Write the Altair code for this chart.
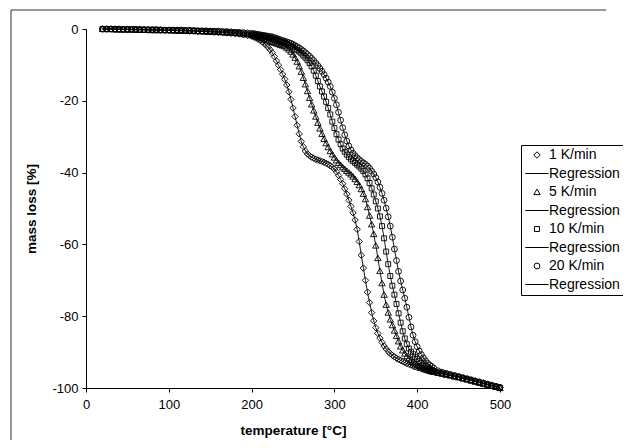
import altair as alt
import pandas as pd

# temperature grid [°C]
temps_low = [20, 25, 30, 35, 40, 45, 50, 55, 60, 65, 70, 75, 80, 85, 90, 95, 100, 105, 110, 115,
             120, 125, 130, 135, 140, 145, 150, 155, 160, 165, 170, 175, 180, 185, 190, 195, 200]
temps_mid = [202.5, 205, 207.5, 210, 212.5, 215, 217.5, 220, 222.5, 225,
             227.5, 230, 232.5, 235, 237.5, 240, 242.5, 245, 247.5, 250,
             252.5, 255, 257.5, 260, 262.5, 265, 267.5, 270, 272.5, 275,
             277.5, 280, 282.5, 285, 287.5, 290, 292.5, 295, 297.5, 300,
             302.5, 305, 307.5, 310, 312.5, 315, 317.5, 320, 322.5, 325,
             327.5, 330, 332.5, 335, 337.5, 340, 342.5, 345, 347.5, 350,
             352.5, 355, 357.5, 360, 362.5, 365, 367.5, 370, 372.5, 375,
             377.5, 380, 382.5, 385, 387.5, 390, 392.5, 395, 397.5, 400,
             402.5, 405, 407.5, 410, 412.5, 415, 417.5, 420]
temps_tail = [425, 430, 435, 440, 445, 450, 455, 460, 465, 470, 475, 480, 485, 490, 495, 500]

# mass loss [%], 1 K/min
m1_low = [0, 0, 0, -0.1, -0.1, -0.1, -0.1, -0.2, -0.2, -0.2,
          -0.2, -0.3, -0.3, -0.3, -0.3, -0.4, -0.4, -0.4, -0.5, -0.5,
          -0.5, -0.6, -0.6, -0.7, -0.7, -0.8, -0.8, -0.9, -1.0, -1.0,
          -1.1, -1.2, -1.3, -1.4, -1.6, -1.8, -2.0]
m1_mid = [-2.2, -2.5, -2.8, -3.1, -3.5, -4.0, -4.5, -5.1, -5.8, -6.6,
          -7.7, -8.9, -10.1, -11.3, -12.6, -14.0, -15.6, -17.5, -19.6, -22.0,
          -24.4, -26.8, -29.2, -31.3, -32.8, -34.0, -34.8, -35.3, -35.7, -36.0,
          -36.3, -36.5, -36.7, -36.9, -37.1, -37.4, -37.7, -38.1, -38.5, -39.0,
          -39.8, -40.8, -41.9, -43.1, -44.5, -46.0, -47.7, -49.4, -51.2, -53.2,
          -55.8, -59.2, -63.0, -66.6, -70.0, -73.3, -76.2, -79.0, -81.3, -83.2,
          -84.8, -86.1, -87.3, -88.3, -89.1, -89.8, -90.4, -90.9, -91.3, -91.7,
          -92.0, -92.3, -92.6, -92.9, -93.2, -93.4, -93.6, -93.9, -94.1, -94.3,
          -94.4, -94.6, -94.7, -94.9, -95.0, -95.1, -95.3, -95.4]
m1_tail = [-95.6, -95.9, -96.1, -96.4, -96.6, -96.9, -97.2, -97.5, -97.8, -98.1,
           -98.4, -98.7, -99.0, -99.3, -99.6, -99.9]

# 5 K/min
m5_low = [0, 0, 0, -0.1, -0.1, -0.1, -0.1, -0.1, -0.2, -0.2,
          -0.2, -0.2, -0.3, -0.3, -0.3, -0.3, -0.3, -0.4, -0.4, -0.4,
          -0.5, -0.5, -0.5, -0.6, -0.6, -0.7, -0.7, -0.8, -0.8, -0.9,
          -1.0, -1.0, -1.1, -1.2, -1.4, -1.5, -1.7]
m5_mid = [-1.8, -2.0, -2.2, -2.4, -2.6, -2.8, -3.0, -3.2, -3.4, -3.6,
          -3.8, -4.0, -4.2, -4.4, -4.6, -4.8, -5.2, -5.7, -6.3, -7.1,
          -8.0, -9.1, -10.4, -11.9, -13.6, -15.4, -17.3, -19.2, -21.0, -22.7,
          -24.4, -26.1, -27.7, -29.2, -30.6, -31.8, -32.9, -34.0, -34.9, -35.8,
          -36.6, -37.3, -37.9, -38.5, -39.0, -39.5, -40.0, -40.5, -41.1, -41.8,
          -42.6, -43.5, -44.6, -45.9, -47.4, -49.6, -52.0, -54.4, -57.1, -60.3,
          -63.8, -67.4, -70.8, -74.0, -76.8, -79.0, -80.9, -82.5, -84.0, -85.5,
          -87.0, -88.4, -89.5, -90.4, -91.1, -91.7, -92.2, -92.7, -93.1, -93.5,
          -93.9, -94.2, -94.5, -94.8, -95.0, -95.2, -95.4, -95.5]
m5_tail = [-95.8, -96.0, -96.3, -96.5, -96.8, -97.0, -97.3, -97.6, -97.9, -98.2,
           -98.5, -98.8, -99.1, -99.4, -99.7, -100.0]

# 10 K/min
m10_low = [0, 0, 0, 0, -0.1, -0.1, -0.1, -0.1, -0.1, -0.2,
           -0.2, -0.2, -0.2, -0.2, -0.3, -0.3, -0.3, -0.3, -0.4, -0.4,
           -0.4, -0.4, -0.5, -0.5, -0.6, -0.6, -0.6, -0.7, -0.7, -0.8,
           -0.9, -0.9, -1.0, -1.1, -1.2, -1.3, -1.5]
m10_mid = [-1.6, -1.7, -1.8, -1.9, -2.0, -2.1, -2.2, -2.4, -2.5, -2.7,
           -2.9, -3.1, -3.3, -3.5, -3.7, -3.9, -4.2, -4.5, -4.8, -5.1,
           -5.5, -5.9, -6.3, -6.8, -7.4, -8.0, -8.7, -9.5, -10.4, -11.6,
           -13.0, -14.5, -16.0, -17.4, -18.8, -20.3, -22.0, -23.8, -25.8, -27.6,
           -29.3, -30.8, -32.1, -33.3, -34.2, -35.0, -35.7, -36.3, -36.8, -37.3,
           -37.8, -38.3, -38.9, -39.6, -40.5, -41.6, -42.9, -44.4, -46.1, -48.0,
           -50.0, -52.2, -54.9, -58.3, -62.0, -65.5, -68.8, -71.5, -74.0, -76.6,
           -79.2, -81.8, -84.2, -86.2, -87.8, -89.0, -89.9, -90.6, -91.3, -91.9,
           -92.5, -93.0, -93.5, -93.9, -94.3, -94.7, -95.0, -95.3]
m10_tail = [-95.7, -96.0, -96.2, -96.5, -96.7, -97.0, -97.3, -97.6, -97.9, -98.2,
            -98.5, -98.8, -99.1, -99.4, -99.7, -100.0]

# 20 K/min
m20_low = [0, 0, 0, 0, 0, -0.1, -0.1, -0.1, -0.1, -0.1,
           -0.2, -0.2, -0.2, -0.2, -0.2, -0.3, -0.3, -0.3, -0.3, -0.3,
           -0.4, -0.4, -0.4, -0.5, -0.5, -0.5, -0.6, -0.6, -0.6, -0.7,
           -0.7, -0.8, -0.9, -0.9, -1.0, -1.1, -1.2]
m20_mid = [-1.3, -1.4, -1.5, -1.6, -1.7, -1.8, -1.9, -2.0, -2.1, -2.2,
           -2.4, -2.6, -2.8, -3.0, -3.2, -3.4, -3.6, -3.8, -4.0, -4.3,
           -4.6, -4.9, -5.3, -5.7, -6.1, -6.6, -7.1, -7.6, -8.2, -8.8,
           -9.5, -10.2, -11.0, -11.8, -12.7, -13.7, -14.8, -16.0, -17.6, -19.3,
           -21.1, -23.2, -25.4, -27.5, -29.5, -31.2, -32.6, -33.7, -34.6, -35.3,
           -35.9, -36.4, -36.9, -37.3, -37.7, -38.2, -38.8, -39.6, -40.4, -41.4,
           -42.6, -44.1, -45.8, -47.7, -49.9, -52.3, -54.9, -58.0, -61.3, -64.5,
           -67.5, -70.2, -72.7, -75.0, -77.5, -80.3, -83.0, -85.3, -87.1, -88.5,
           -89.7, -90.7, -91.6, -92.4, -93.1, -93.6, -94.0, -94.5]
m20_tail = [-95.2, -95.6, -95.9, -96.2, -96.5, -96.8, -97.1, -97.4, -97.7, -98.0,
            -98.3, -98.6, -98.9, -99.2, -99.5, -99.8]

series_names = ["1 K/min", "5 K/min", "10 K/min", "20 K/min"]
legend_domain = ["1 K/min", "Regression 1", "5 K/min", "Regression 2",
                 "10 K/min", "Regression 3", "20 K/min", "Regression 4"]
x_ticks = [0, 100, 200, 300, 400, 500]
y_ticks = [0, -20, -40, -60, -80, -100]

temps = temps_low + temps_mid + temps_tail
series_mass = {
    "1 K/min": m1_low + m1_mid + m1_tail,
    "5 K/min": m5_low + m5_mid + m5_tail,
    "10 K/min": m10_low + m10_mid + m10_tail,
    "20 K/min": m20_low + m20_mid + m20_tail,
}
rows = []
for name in series_names:
    vals = series_mass[name]
    assert len(vals) == len(temps), (name, len(vals), len(temps))
    for t, m in zip(temps, vals):
        rows.append({"T": t, "m": m, "series": name})
df = pd.DataFrame(rows)

FONT = "Liberation Sans"
line_path = "M-4,0H4"
shape_range = ["M0,-1.1L1.1,0L0,1.1L-1.1,0Z", line_path,
               "M0,-1L1.1,0.9L-1.1,0.9Z", line_path,
               "M-0.85,-0.85H0.85V0.85H-0.85Z", line_path,
               "circle", line_path]

x_axis = alt.Axis(values=x_ticks, title="temperature [°C]", format="d",
                  grid=False, labelFlush=False,
                  labelFontSize=13, titleFontSize=13.5, titleFontWeight="bold",
                  labelPadding=6, titlePadding=12, tickSize=4)
y_axis = alt.Axis(values=y_ticks, title="mass loss [%]",
                  grid=False, labelFlush=False,
                  labelExpr="'' + datum.value",
                  labelFontSize=13, titleFontSize=13.5, titleFontWeight="bold",
                  labelPadding=4, titlePadding=13, tickSize=4)
x_scale = alt.Scale(domain=[0, 500], nice=False)
y_scale = alt.Scale(domain=[-100, 0], nice=False)

points = alt.Chart(df).mark_point(
    filled=False, color="black", strokeWidth=0.9, size=34, opacity=1
).encode(
    x=alt.X("T:Q", scale=x_scale, axis=x_axis),
    y=alt.Y("m:Q", scale=y_scale, axis=y_axis),
    shape=alt.Shape(
        "series:N",
        scale=alt.Scale(domain=legend_domain, range=shape_range),
        legend=alt.Legend(
            title=None, orient="none", legendX=435, legendY=116,
            strokeColor="black", padding=3, symbolSize=34, symbolStrokeWidth=1,
            symbolStrokeColor="black", symbolOffset=6, labelOffset=5,
            labelFontSize=14, labelFont=FONT, labelColor="black", rowPadding=4.5,
            labelExpr="indexof(datum.label, 'Regression') == 0 ? 'Regression' : '\u00a0\u00a0' + datum.label",
        ),
    ),
)

lines = alt.Chart(df).mark_line(color="black", strokeWidth=0.9).encode(
    x=alt.X("T:Q", scale=x_scale, axis=x_axis),
    y=alt.Y("m:Q", scale=y_scale, axis=y_axis),
    detail="series:N",
)

frame_df = pd.DataFrame({"k": [0]})
frame_left = alt.Chart(frame_df).mark_rule(color="#333333", strokeWidth=1).encode(
    x=alt.value(-75), y=alt.value(-19), y2=alt.value(411)
)
frame_top = alt.Chart(frame_df).mark_rule(color="#333333", strokeWidth=1).encode(
    x=alt.value(-75), x2=alt.value(520), y=alt.value(-19)
)

chart = alt.layer(points, lines, frame_left, frame_top).properties(
    width=414, height=359,
    background="white",
    autosize=alt.AutoSizeParams(type="none"),
    padding={"left": 78, "top": 21, "right": 123, "bottom": 55},
).configure_view(strokeWidth=0).configure_axis(
    grid=False, domainColor="black", tickColor="black",
    labelColor="black", titleColor="black", labelFont=FONT, titleFont=FONT,
    domainWidth=1, tickWidth=1,
)

chart.save("out.html", embed_options={"renderer": "svg", "actions": False})
